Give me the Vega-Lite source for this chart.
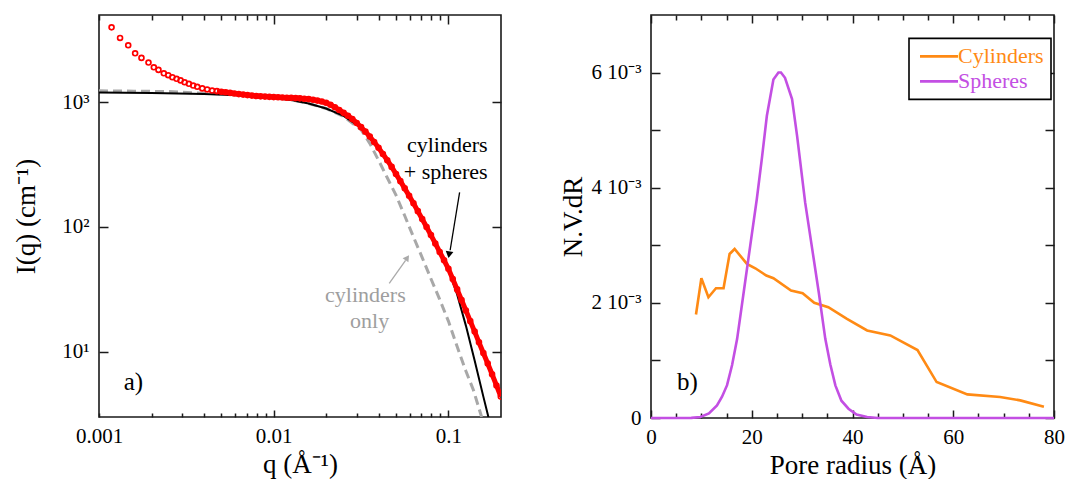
{
  "$schema": "https://vega.github.io/schema/vega-lite/v6.json",
  "background": "white",
  "padding": {"left": 11, "top": 13, "right": 8, "bottom": 0},
  "spacing": 150,
  "bounds": "flush",
  "config": {
    "font": "Liberation Serif",
    "view": {"stroke": "#1a1a1a", "strokeWidth": 1.6},
    "axis": {
      "domain": false, "grid": false, "ticks": false,
      "tickColor": "#1a1a1a", "tickWidth": 1.5, "tickOpacity": 1,
      "labelFont": "Liberation Serif", "labelFontSize": 21, "labelColor": "black",
      "titleFont": "Liberation Serif", "titleFontSize": 27, "titleFontWeight": "normal", "titleColor": "black",
      "labelFlush": false, "labelOverlap": false, "labelBound": false
    }
  },
  "datasets": {
    "red": [
      {"q":0.00118,"I":3980},{"q":0.00132,"I":3275},{"q":0.00147,"I":2860},{"q":0.00161,"I":2465},{"q":0.00175,"I":2265},
      {"q":0.00192,"I":2080},{"q":0.00206,"I":1905},{"q":0.00219,"I":1815},{"q":0.00235,"I":1705},{"q":0.00249,"I":1645},
      {"q":0.00263,"I":1585},{"q":0.00278,"I":1540},{"q":0.00293,"I":1495},{"q":0.00309,"I":1445},{"q":0.00327,"I":1405},
      {"q":0.00346,"I":1360},{"q":0.00365,"I":1330},{"q":0.0039,"I":1290},{"q":0.00416,"I":1265},{"q":0.00444,"I":1240},
      {"q":0.004732,"I":1227},{"q":0.005012,"I":1213},{"q":0.005309,"I":1202},{"q":0.005623,"I":1189},{"q":0.005957,"I":1175},
      {"q":0.00631,"I":1161},{"q":0.006683,"I":1151},{"q":0.007079,"I":1140},{"q":0.007499,"I":1130},{"q":0.007943,"I":1122},
      {"q":0.008414,"I":1114},{"q":0.008913,"I":1109},{"q":0.009441,"I":1104},{"q":0.01,"I":1099},{"q":0.01059,"I":1096},
      {"q":0.01122,"I":1091},{"q":0.01189,"I":1086},{"q":0.01259,"I":1084},{"q":0.01334,"I":1079},{"q":0.01413,"I":1074},
      {"q":0.01496,"I":1067},{"q":0.01585,"I":1059},{"q":0.01679,"I":1047},{"q":0.01778,"I":1030},{"q":0.01884,"I":1012},
      {"q":0.01995,"I":989},{"q":0.02113,"I":953},{"q":0.02239,"I":912},{"q":0.02371,"I":867},{"q":0.02512,"I":822},
      {"q":0.02661,"I":778},{"q":0.02818,"I":733},{"q":0.02985,"I":682},{"q":0.03162,"I":631},{"q":0.0335,"I":581},
      {"q":0.03548,"I":531},{"q":0.03758,"I":480},{"q":0.03981,"I":432},{"q":0.04217,"I":385},{"q":0.04467,"I":343},
      {"q":0.04732,"I":303},{"q":0.05012,"I":266},{"q":0.05309,"I":233},{"q":0.05623,"I":204},{"q":0.05957,"I":178},
      {"q":0.0631,"I":155},{"q":0.06683,"I":134},{"q":0.07079,"I":116},{"q":0.07499,"I":100},{"q":0.07943,"I":86.1},
      {"q":0.08414,"I":73.8},{"q":0.08913,"I":63.1},{"q":0.09441,"I":54.1},{"q":0.1,"I":46.2},{"q":0.1059,"I":38.3},
      {"q":0.1122,"I":31.6},{"q":0.1189,"I":26.0},{"q":0.1259,"I":21.4},{"q":0.1334,"I":17.6},{"q":0.1413,"I":14.5},
      {"q":0.1496,"I":11.9},{"q":0.1585,"I":9.77},{"q":0.1679,"I":8.04},{"q":0.1778,"I":6.61},{"q":0.1884,"I":5.37},
      {"q":0.1995,"I":4.37}
    ],
    "cylOnly": [
      {"q":0.001,"I":1233},{"q":0.001585,"I":1227},{"q":0.002512,"I":1216},{"q":0.003981,"I":1180},{"q":0.00631,"I":1143},
      {"q":0.01,"I":1086},{"q":0.01259,"I":1047},{"q":0.01585,"I":977},{"q":0.01995,"I":891},{"q":0.02512,"I":767},
      {"q":0.03162,"I":603},{"q":0.03548,"I":468},{"q":0.03981,"I":343},{"q":0.04467,"I":248},{"q":0.05012,"I":180},
      {"q":0.05623,"I":123},{"q":0.0631,"I":83.2},{"q":0.07079,"I":56.9},{"q":0.07943,"I":38.5},{"q":0.08913,"I":26.3},
      {"q":0.1,"I":17.6},{"q":0.1122,"I":11.0},{"q":0.1259,"I":7.0},{"q":0.139,"I":4.94},{"q":0.1549,"I":3.0}
    ],
    "fit": [
      {"q":0.001,"I":1197},{"q":0.001995,"I":1186},{"q":0.003981,"I":1164},{"q":0.00631,"I":1135},{"q":0.01,"I":1084},
      {"q":0.01259,"I":1042},{"q":0.01585,"I":977},{"q":0.01995,"I":891},{"q":0.02512,"I":776},{"q":0.03162,"I":624},
      {"q":0.03981,"I":430},{"q":0.05012,"I":263},{"q":0.0631,"I":153},{"q":0.07943,"I":85.1},{"q":0.1,"I":45.2},
      {"q":0.1122,"I":28.8},{"q":0.1259,"I":16.2},{"q":0.1413,"I":8.51},{"q":0.1585,"I":4.37},{"q":0.1694,"I":3.0}
    ],
    "dist": [
      {"R":8.93,"v":0.001798,"series":"Cylinders"},{"R":10.0,"v":0.002428,"series":"Cylinders"},{"R":11.4,"v":0.002098,"series":"Cylinders"},
      {"R":12.9,"v":0.002254,"series":"Cylinders"},{"R":14.4,"v":0.002254,"series":"Cylinders"},{"R":15.6,"v":0.002849,"series":"Cylinders"},
      {"R":16.6,"v":0.002936,"series":"Cylinders"},{"R":19.05,"v":0.002676,"series":"Cylinders"},{"R":20.7,"v":0.002601,"series":"Cylinders"},
      {"R":22.9,"v":0.002474,"series":"Cylinders"},{"R":24.3,"v":0.002428,"series":"Cylinders"},{"R":27.8,"v":0.002214,"series":"Cylinders"},
      {"R":30.1,"v":0.002167,"series":"Cylinders"},{"R":32.4,"v":0.002,"series":"Cylinders"},{"R":35.2,"v":0.001925,"series":"Cylinders"},
      {"R":38.9,"v":0.001722,"series":"Cylinders"},{"R":42.9,"v":0.001521,"series":"Cylinders"},{"R":47.5,"v":0.001434,"series":"Cylinders"},
      {"R":52.9,"v":0.00118,"series":"Cylinders"},{"R":56.7,"v":0.000624,"series":"Cylinders"},{"R":62.8,"v":0.00041,"series":"Cylinders"},
      {"R":69.3,"v":0.000364,"series":"Cylinders"},{"R":73.3,"v":0.000306,"series":"Cylinders"},{"R":78.0,"v":0.000195,"series":"Cylinders"},
      {"R":0,"v":0,"series":"Spheres"},{"R":5,"v":0,"series":"Spheres"},{"R":8,"v":0.000002,"series":"Spheres"},
      {"R":9.8,"v":0.000017,"series":"Spheres"},{"R":11.5,"v":0.00008,"series":"Spheres"},{"R":13.1,"v":0.00022,"series":"Spheres"},
      {"R":14.1,"v":0.00037,"series":"Spheres"},{"R":15.1,"v":0.00057,"series":"Spheres"},{"R":16.1,"v":0.00092,"series":"Spheres"},
      {"R":17.1,"v":0.001375,"series":"Spheres"},{"R":18.4,"v":0.002185,"series":"Spheres"},{"R":19.7,"v":0.002995,"series":"Spheres"},
      {"R":21.0,"v":0.0038,"series":"Spheres"},{"R":22.0,"v":0.0045,"series":"Spheres"},{"R":23.0,"v":0.00525,"series":"Spheres"},
      {"R":24.3,"v":0.00588,"series":"Spheres"},{"R":25.3,"v":0.006,"series":"Spheres"},{"R":25.8,"v":0.006,"series":"Spheres"},
      {"R":26.6,"v":0.00591,"series":"Spheres"},{"R":28.0,"v":0.00554,"series":"Spheres"},{"R":29.0,"v":0.0049,"series":"Spheres"},
      {"R":30.6,"v":0.003745,"series":"Spheres"},{"R":31.9,"v":0.002995,"series":"Spheres"},{"R":33.3,"v":0.002185,"series":"Spheres"},
      {"R":34.6,"v":0.001375,"series":"Spheres"},{"R":35.6,"v":0.00093,"series":"Spheres"},{"R":36.6,"v":0.000567,"series":"Spheres"},
      {"R":37.8,"v":0.0003,"series":"Spheres"},{"R":39.2,"v":0.000161,"series":"Spheres"},{"R":40.8,"v":0.00006,"series":"Spheres"},
      {"R":42.9,"v":0.000017,"series":"Spheres"},{"R":45,"v":0,"series":"Spheres"},{"R":80,"v":0,"series":"Spheres"}
    ]
  },
  "hconcat": [
    {
      "width": 402,
      "height": 402,
      "resolve": {"axis": {"x": "independent", "y": "independent"}},
      "layer": [
        {
          "data": {"name": "cylOnly"},
          "mark": {"type": "line", "color": "#a8a8a8", "strokeWidth": 3, "strokeDash": [9, 5], "clip": true},
          "encoding": {
            "x": {"field": "q", "type": "quantitative",
              "scale": {"type": "log", "domain": [0.001, 0.2], "nice": false},
              "axis": {"orient": "top", "labels": false, "title": null,
                "values": [0.001,0.002,0.003,0.004,0.005,0.006,0.007,0.008,0.009,0.01,0.02,0.03,0.04,0.05,0.06,0.07,0.08,0.09,0.1],
                "ticks": true, "tickSize": 9, "offset": -9,
                "tickDash": {"condition": {"test": "datum.value == 0.01 || datum.value == 0.1", "value": [9, 100]}, "value": [0, 4, 5, 100]}}},
            "y": {"field": "I", "type": "quantitative",
              "scale": {"type": "log", "domain": [3, 5000], "nice": false},
              "axis": {"orient": "right", "labels": false, "title": null, "ticks": true, "tickSize": 9, "offset": -9, "values": [10, 100, 1000]}}
          }
        },
        {
          "data": {"name": "fit"},
          "mark": {"type": "line", "color": "black", "strokeWidth": 2, "clip": true},
          "encoding": {
            "x": {"field": "q", "type": "quantitative", "scale": {"type": "log", "domain": [0.001, 0.2], "nice": false}, "axis": null},
            "y": {"field": "I", "type": "quantitative", "scale": {"type": "log", "domain": [3, 5000], "nice": false}, "axis": null}
          }
        },
        {
          "data": {"name": "red"},
          "transform": [{"filter": "datum.q >= 0.0047"}],
          "mark": {"type": "line", "color": "#ff0000", "strokeWidth": 5, "clip": true},
          "encoding": {
            "x": {"field": "q", "type": "quantitative", "scale": {"type": "log", "domain": [0.001, 0.2], "nice": false}, "axis": null},
            "y": {"field": "I", "type": "quantitative", "scale": {"type": "log", "domain": [3, 5000], "nice": false}, "axis": null}
          }
        },
        {
          "data": {"name": "red"},
          "mark": {"type": "point", "shape": "circle", "filled": false, "color": "#ff0000", "size": 24, "strokeWidth": 1.7, "opacity": 1, "clip": true},
          "encoding": {
            "x": {"field": "q", "type": "quantitative",
              "scale": {"type": "log", "domain": [0.001, 0.2], "nice": false},
              "axis": {"orient": "bottom", "title": "q (Å⁻¹)", "titlePadding": 5,
                "values": [0.001,0.002,0.003,0.004,0.005,0.006,0.007,0.008,0.009,0.01,0.02,0.03,0.04,0.05,0.06,0.07,0.08,0.09,0.1],
                "labelExpr": "datum.value == 0.001 ? '0.001' : datum.value == 0.01 ? '0.01' : datum.value == 0.1 ? '0.1' : ''",
                "labelPadding": 8, "ticks": true, "tickSize": 7, "offset": -7,
                "tickDash": {"condition": {"test": "datum.value == 0.01 || datum.value == 0.1", "value": [7, 100]}, "value": [0, 3, 4, 100]}}},
            "y": {"field": "I", "type": "quantitative",
              "scale": {"type": "log", "domain": [3, 5000], "nice": false},
              "axis": {"orient": "left", "title": "I(q) (cm⁻¹)", "titlePadding": 21,
                "values": [10, 100, 1000],
                "labelExpr": "datum.value == 10 ? '10¹' : datum.value == 100 ? '10²' : '10³'",
                "labelPadding": 10, "ticks": true, "tickSize": 9, "offset": -9}}
          }
        },
        {
          "data": {"values": [{"q": 0.1677, "I": 398, "t": "cylinders"}, {"q": 0.1677, "I": 244, "t": "+ spheres"}]},
          "mark": {"type": "text", "align": "right", "baseline": "alphabetic", "font": "Liberation Serif", "fontSize": 22, "color": "black"},
          "encoding": {
            "x": {"field": "q", "type": "quantitative", "scale": {"type": "log", "domain": [0.001, 0.2], "nice": false}, "axis": null},
            "y": {"field": "I", "type": "quantitative", "scale": {"type": "log", "domain": [3, 5000], "nice": false}, "axis": null},
            "text": {"field": "t"}
          }
        },
        {
          "data": {"values": [{"q": 0.0335, "I": 25.1, "t": "cylinders"}, {"q": 0.0354, "I": 15.4, "t": "only"}]},
          "mark": {"type": "text", "align": "center", "baseline": "alphabetic", "font": "Liberation Serif", "fontSize": 22, "color": "#9e9e9e"},
          "encoding": {
            "x": {"field": "q", "type": "quantitative", "scale": {"type": "log", "domain": [0.001, 0.2], "nice": false}, "axis": null},
            "y": {"field": "I", "type": "quantitative", "scale": {"type": "log", "domain": [3, 5000], "nice": false}, "axis": null},
            "text": {"field": "t"}
          }
        },
        {
          "data": {"values": [{"q": 0.001384, "I": 4.94, "t": "a)"}]},
          "mark": {"type": "text", "align": "left", "baseline": "alphabetic", "font": "Liberation Serif", "fontSize": 25, "color": "black"},
          "encoding": {
            "x": {"field": "q", "type": "quantitative", "scale": {"type": "log", "domain": [0.001, 0.2], "nice": false}, "axis": null},
            "y": {"field": "I", "type": "quantitative", "scale": {"type": "log", "domain": [3, 5000], "nice": false}, "axis": null},
            "text": {"field": "t"}
          }
        },
        {
          "data": {"values": [{"q": 0.1159, "I": 189.5, "q2": 0.1023, "I2": 65.1}]},
          "mark": {"type": "rule", "color": "black", "strokeWidth": 1.3},
          "encoding": {
            "x": {"field": "q", "type": "quantitative", "scale": {"type": "log", "domain": [0.001, 0.2], "nice": false}, "axis": null},
            "y": {"field": "I", "type": "quantitative", "scale": {"type": "log", "domain": [3, 5000], "nice": false}, "axis": null},
            "x2": {"field": "q2"},
            "y2": {"field": "I2"}
          }
        },
        {
          "data": {"values": [{"q": 0.1008, "I": 59.9}]},
          "mark": {"type": "point", "shape": "triangle-down", "filled": true, "color": "black", "size": 60, "angle": 9, "opacity": 1},
          "encoding": {
            "x": {"field": "q", "type": "quantitative", "scale": {"type": "log", "domain": [0.001, 0.2], "nice": false}, "axis": null},
            "y": {"field": "I", "type": "quantitative", "scale": {"type": "log", "domain": [3, 5000], "nice": false}, "axis": null}
          }
        },
        {
          "data": {"values": [{"q": 0.04584, "I": 35.4, "q2": 0.05687, "I2": 54.1}]},
          "mark": {"type": "rule", "color": "#aaaaaa", "strokeWidth": 1.3},
          "encoding": {
            "x": {"field": "q", "type": "quantitative", "scale": {"type": "log", "domain": [0.001, 0.2], "nice": false}, "axis": null},
            "y": {"field": "I", "type": "quantitative", "scale": {"type": "log", "domain": [3, 5000], "nice": false}, "axis": null},
            "x2": {"field": "q2"},
            "y2": {"field": "I2"}
          }
        },
        {
          "data": {"values": [{"q": 0.05815, "I": 56.6}]},
          "mark": {"type": "point", "shape": "triangle-up", "filled": true, "color": "#aaaaaa", "size": 50, "angle": 35, "opacity": 1},
          "encoding": {
            "x": {"field": "q", "type": "quantitative", "scale": {"type": "log", "domain": [0.001, 0.2], "nice": false}, "axis": null},
            "y": {"field": "I", "type": "quantitative", "scale": {"type": "log", "domain": [3, 5000], "nice": false}, "axis": null}
          }
        }
      ]
    },
    {
      "width": 403,
      "height": 403,
      "resolve": {"axis": {"x": "independent", "y": "independent"}},
      "layer": [
        {
          "data": {"name": "dist"},
          "mark": {"type": "line", "strokeWidth": 2.6},
          "encoding": {
            "x": {"field": "R", "type": "quantitative",
              "scale": {"domain": [0, 80], "nice": false},
              "axis": {"orient": "bottom", "title": "Pore radius (Å)", "titlePadding": 5,
                "values": [0,5,10,15,20,25,30,35,40,45,50,55,60,65,70,75,80],
                "labelExpr": "datum.value % 20 == 0 ? datum.label : ''",
                "ticks": true, "tickSize": 8, "offset": -8, "labelPadding": 8,
                "tickDash": {"condition": {"test": "datum.value % 20 == 0", "value": [8, 100]}, "value": [0, 3, 5, 100]}}},
            "y": {"field": "v", "type": "quantitative",
              "scale": {"domain": [0, 0.007], "nice": false},
              "axis": {"orient": "left", "title": "N.V.dR", "titlePadding": 3,
                "values": [0, 0.001, 0.002, 0.003, 0.004, 0.005, 0.006],
                "labelExpr": "datum.value == 0 ? '0' : (round(datum.value * 1000) % 2 == 0 ? round(datum.value * 1000) + ' 10⁻³' : '')",
                "ticks": true, "tickSize": 9, "offset": -9, "labelPadding": 10}},
            "color": {"field": "series", "type": "nominal",
              "scale": {"domain": ["Cylinders", "Spheres"], "range": ["#ff8a14", "#c34fe3"]},
              "legend": {"orient": "none", "legendX": 810, "legendY": 23.4, "title": null,
                "strokeColor": "black", "fillColor": "white", "padding": 7,
                "labelFont": "Liberation Serif", "labelFontSize": 22,
                "symbolType": "M-2.5,0H2.5", "symbolSize": 231, "symbolStrokeWidth": 2.6,
                "symbolOffset": 12, "labelOffset": 8, "rowPadding": 3,
                "encode": {
                  "labels": {"update": {"fill": {"signal": "datum.value == 'Cylinders' ? '#ff8a14' : '#c34fe3'"}}},
                  "legend": {"update": {"strokeWidth": {"value": 1.6}}}
                }}}
          }
        },
        {
          "data": {"values": [{"R": 5.16, "v": 0.00048, "t": "b)"}]},
          "mark": {"type": "text", "align": "left", "baseline": "alphabetic", "font": "Liberation Serif", "fontSize": 25, "color": "black"},
          "encoding": {
            "x": {"field": "R", "type": "quantitative",
              "scale": {"domain": [0, 80], "nice": false},
              "axis": {"orient": "top", "labels": false, "title": null,
                "values": [0,5,10,15,20,25,30,35,40,45,50,55,60,65,70,75,80],
                "ticks": true, "tickSize": 8, "offset": -8,
                "tickDash": {"condition": {"test": "datum.value % 20 == 0", "value": [8, 100]}, "value": [0, 3, 5, 100]}}},
            "y": {"field": "v", "type": "quantitative",
              "scale": {"domain": [0, 0.007], "nice": false},
              "axis": {"orient": "right", "labels": false, "title": null,
                "values": [0, 0.001, 0.002, 0.003, 0.004, 0.005, 0.006],
                "ticks": true, "tickSize": 9, "offset": -9}},
            "text": {"field": "t"}
          }
        }
      ]
    }
  ]
}
